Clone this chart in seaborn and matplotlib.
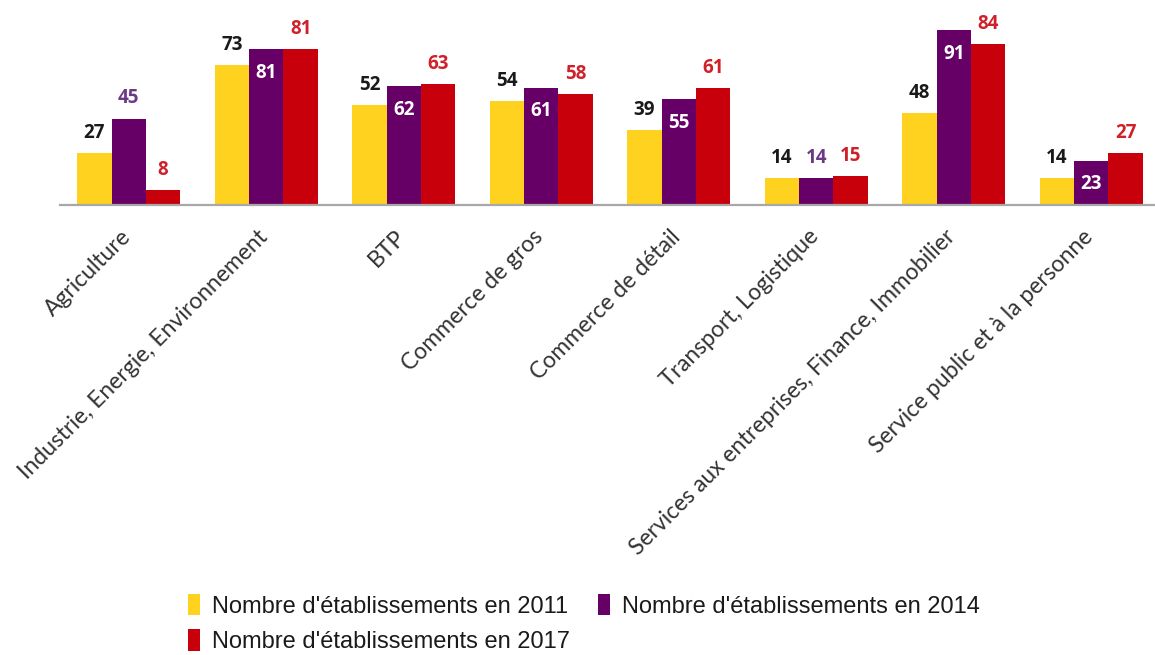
import pandas as pd
import matplotlib.pyplot as plt
import matplotlib.transforms as mtransforms
import seaborn as sns
from matplotlib.patches import Patch

secteurs = [
    "Agriculture",
    "Industrie, Energie, Environnement",
    "BTP",
    "Commerce de gros",
    "Commerce de détail",
    "Transport, Logistique",
    "Services aux entreprises, Finance, Immobilier",
    "Service public et à la personne",
]
annees = ["Nombre d'établissements en 2011",
          "Nombre d'établissements en 2014",
          "Nombre d'établissements en 2017"]
n_2011 = [27, 73, 52, 54, 39, 14, 48, 14]
n_2014 = [45, 81, 62, 61, 55, 14, 91, 23]
n_2017 = [8, 81, 63, 58, 61, 15, 84, 27]

couleurs = ["#FFD21F", "#660066", "#C8000B"]
couleurs_txt = ["#1A1A1A", "#6B3A87", "#D0202A"]

rows = []
for annee, vals in zip(annees, [n_2011, n_2014, n_2017]):
    for s, v in zip(secteurs, vals):
        rows.append({"secteur": s, "annee": annee, "nombre": v})
df = pd.DataFrame(rows)

sns.set_style("white")
plt.rcParams['font.family'] = ['Open Sans', 'DejaVu Sans']

fig = plt.figure(figsize=(11.55, 6.55), dpi=100)
W, H = 1155, 655
ax = fig.add_axes([60 / W, 1 - 205 / H, 1100 / W, 205 / H])

sns.barplot(data=df, x="secteur", y="nombre", hue="annee", palette=couleurs,
            width=0.75, saturation=1, ax=ax, legend=False, errorbar=None, linewidth=0)

ax.set_xlim(-0.5, 7.5)
ax.set_ylim(0, 205 / 1.92)
ax.set_xlabel("")
ax.set_ylabel("")
ax.set_yticks([])
for sp in ["top", "right", "left"]:
    ax.spines[sp].set_visible(False)
ax.spines["bottom"].set_color("#A8A8A8")
ax.spines["bottom"].set_linewidth(1.6)

# graduations aux limites des catégories
ax.set_xticks(range(len(secteurs)))
ax.set_xticks([i - 0.5 for i in range(len(secteurs) + 1)], minor=True)
ax.tick_params(axis="x", which="major", length=0, pad=15)
ax.tick_params(axis="x", which="minor", length=10, width=1.6, color="#A8A8A8")
ax.set_xticklabels(secteurs, rotation=45, ha="right", fontsize=16.5, color="#333333",
                   family=["Lato", "DejaVu Sans"])
decal = mtransforms.ScaledTranslation(6 / 100, 0, fig.dpi_scale_trans)
for lab in ax.get_xticklabels():
    lab.set_transform(lab.get_transform() + decal)

# étiquettes de valeurs
dedans_2014 = {1, 2, 3, 4, 6, 7}
for k, cont in enumerate(ax.containers):
    for i, bar in enumerate(cont):
        v = bar.get_height()
        x = bar.get_x() + bar.get_width() / 2
        if k == 1 and i in dedans_2014:
            ax.annotate(f"{int(v)}", (x, v), xytext=(0, -17), textcoords="offset points",
                        ha="center", va="center", color="white", fontsize=13.5, fontweight="bold")
        else:
            ax.annotate(f"{int(v)}", (x, v), xytext=(0, 14.5), textcoords="offset points",
                        ha="center", va="center", color=couleurs_txt[k], fontsize=13.5,
                        fontweight="bold")

handles = [Patch(facecolor=couleurs[i], edgecolor="none") for i in range(3)]
ordre = [0, 2, 1]
fig.legend([handles[i] for i in ordre], [annees[i] for i in ordre],
           loc="upper left", bbox_to_anchor=(188 / W, 1 - 594 / H), ncol=2, frameon=False,
           prop={"family": ["Liberation Sans", "DejaVu Sans"], "size": 17},
           handlelength=0.5, handleheight=1.0, handletextpad=0.5, columnspacing=1.2,
           labelspacing=0.5, borderaxespad=0, borderpad=0, labelcolor="#1A1A1A")

fig.savefig("out.png", dpi=100)
